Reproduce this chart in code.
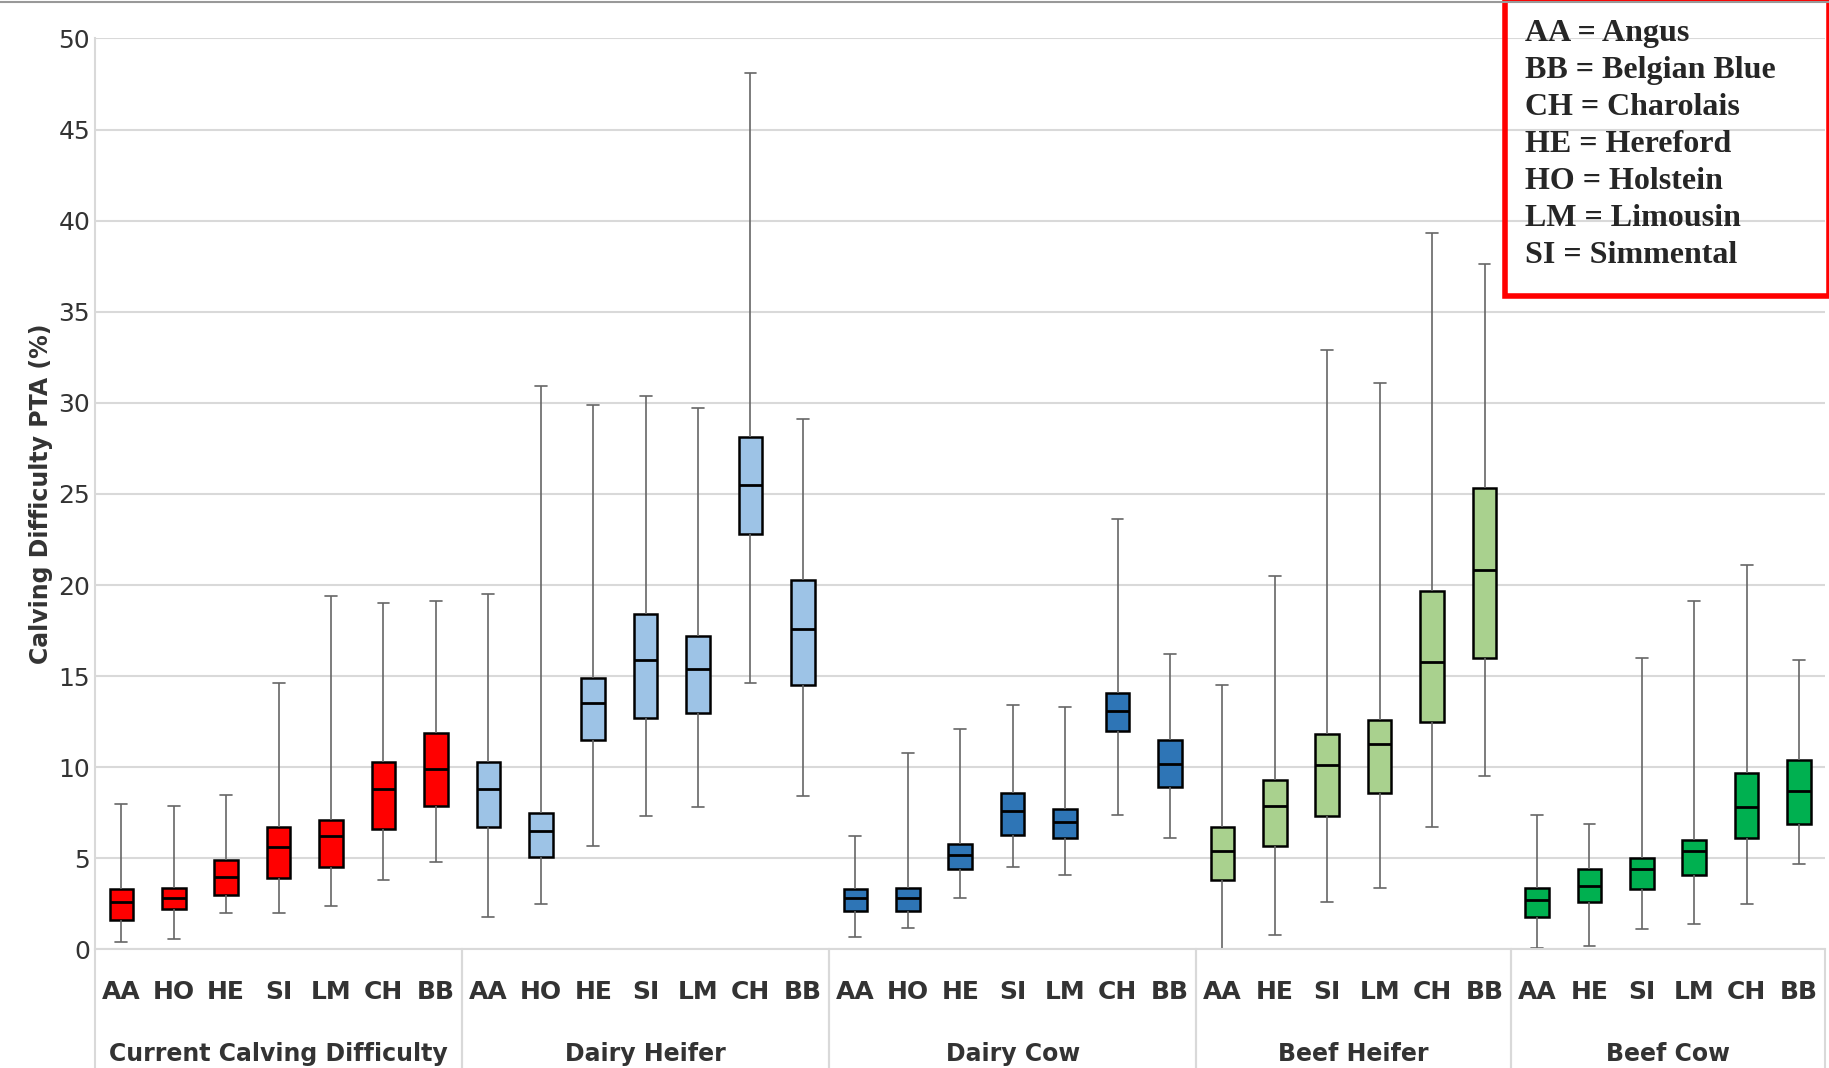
import numpy as np, pandas as pd, seaborn as sns, matplotlib
matplotlib.use("Agg")
import matplotlib.pyplot as plt

groups = ["Current Calving Difficulty", "Dairy Heifer", "Dairy Cow", "Beef Heifer", "Beef Cow"]
breeds = [["AA","HO","HE","SI","LM","CH","BB"]]*3 + [["AA","HE","SI","LM","CH","BB"]]*2
colors = ["#FF0000", "#9DC3E6", "#2E75B6", "#A9D18E", "#00B050"]
# min, q1, median, q3, max
ccd = [[0.4,1.6,2.6,3.3,8.0],[0.6,2.2,2.8,3.4,7.9],[2.0,3.0,4.0,4.9,8.5],[2.0,3.9,5.6,6.7,14.6],
       [2.4,4.5,6.2,7.1,19.4],[3.8,6.6,8.8,10.3,19.0],[4.8,7.9,9.9,11.9,19.1]]
dh = [[1.8,6.7,8.8,10.3,19.5],[2.5,5.1,6.5,7.5,30.9],[5.7,11.5,13.5,14.9,29.9],[7.3,12.7,15.9,18.4,30.4],
      [7.8,13.0,15.4,17.2,29.7],[14.6,22.8,25.5,28.1,48.1],[8.4,14.5,17.6,20.3,29.1]]
dc = [[0.7,2.1,2.8,3.3,6.2],[1.2,2.1,2.8,3.4,10.8],[2.8,4.4,5.2,5.8,12.1],[4.5,6.3,7.6,8.6,13.4],
      [4.1,6.1,7.0,7.7,13.3],[7.4,12.0,13.1,14.1,23.6],[6.1,8.9,10.2,11.5,16.2]]
bh = [[0.0,3.8,5.4,6.7,14.5],[0.8,5.7,7.9,9.3,20.5],[2.6,7.3,10.1,11.8,32.9],[3.4,8.6,11.3,12.6,31.1],
      [6.7,12.5,15.8,19.7,39.3],[9.5,16.0,20.8,25.3,37.6]]
bc = [[0.1,1.8,2.7,3.4,7.4],[0.2,2.6,3.5,4.4,6.9],[1.1,3.3,4.4,5.0,16.0],[1.4,4.1,5.4,6.0,19.1],
      [2.5,6.1,7.8,9.7,21.1],[4.7,6.9,8.7,10.4,15.9]]
stats = [ccd, dh, dc, bh, bc]

rows, order, ticklabels = [], [], []
for g, bl, st in zip(groups, breeds, stats):
    for b, s in zip(bl, st):
        key = f"{g}|{b}"
        order.append(key); ticklabels.append(b)
        for v in s:
            rows.append((key, g, v))
df = pd.DataFrame(rows, columns=["pos", "group", "val"])

sns.set_style("white")
fig = plt.figure(figsize=(18.29, 10.68), dpi=100)
ax = fig.add_axes([0.052, 0.111, 0.946, 0.853])
ax.yaxis.grid(True, color="#D9D9D9", lw=1.5, zorder=0)
ax.set_axisbelow(True)
sns.boxplot(data=df, x="pos", y="val", hue="group", order=order, hue_order=groups,
            palette=colors, saturation=1, dodge=False, whis=np.inf, width=0.45, ax=ax, legend=False,
            linecolor="black", linewidth=1.8,
            whiskerprops=dict(color="#666666", lw=1.2), capprops=dict(color="#666666", lw=1.2),
            medianprops=dict(color="black", lw=2))
ax.set_ylim(0, 50)
ax.set_yticks(range(0, 51, 5))
ax.set_xlim(-0.5, len(order) - 0.5)
ax.set_xticks(range(len(order)))
ax.set_xticklabels(ticklabels, fontsize=18, color="#333333", fontweight="semibold")
ax.tick_params(axis="y", labelsize=18, colors="#333333", length=0)
ax.tick_params(axis="x", length=0, pad=22)
ax.set_xlabel("")
ax.set_ylabel("Calving Difficulty PTA (%)", fontsize=17, fontweight="bold", color="#333333")
for sp in ["top", "right"]:
    ax.spines[sp].set_visible(False)
ax.spines["left"].set_color("#D9D9D9")
ax.spines["bottom"].set_color("#D9D9D9")
ax.spines["left"].set_linewidth(1.5)
ax.spines["bottom"].set_linewidth(1.5)

start = 0
n = len(order)
for g, bl in zip(groups, breeds):
    end = start + len(bl)
    for bnd in (start, end):
        x = bnd / n
        ax.plot([x, x], [0, -0.13], transform=ax.transAxes, color="#D9D9D9", lw=1.5, clip_on=False)
    ax.text(((start + end) / 2) / n, -0.115, g, transform=ax.transAxes, ha="center", va="center",
            fontsize=17, color="#333333", fontweight="semibold")
    start = end

fig.add_artist(plt.Line2D([0, 1], [0.998, 0.998], color="#999999", lw=1.5))
legtxt = "AA = Angus\nBB = Belgian Blue\nCH = Charolais\nHE = Hereford\nHO = Holstein\nLM = Limousin\nSI = Simmental"
fig.text(0.834, 0.982, legtxt, ha="left", va="top", fontsize=23, fontweight="bold",
         family="Liberation Serif", linespacing=1.36)
fig.add_artist(plt.Rectangle((0.823, 0.723), 0.177, 0.277, fill=False, ec="#FF0000", lw=4,
                             transform=fig.transFigure))
fig.savefig("out.png", dpi=100)
